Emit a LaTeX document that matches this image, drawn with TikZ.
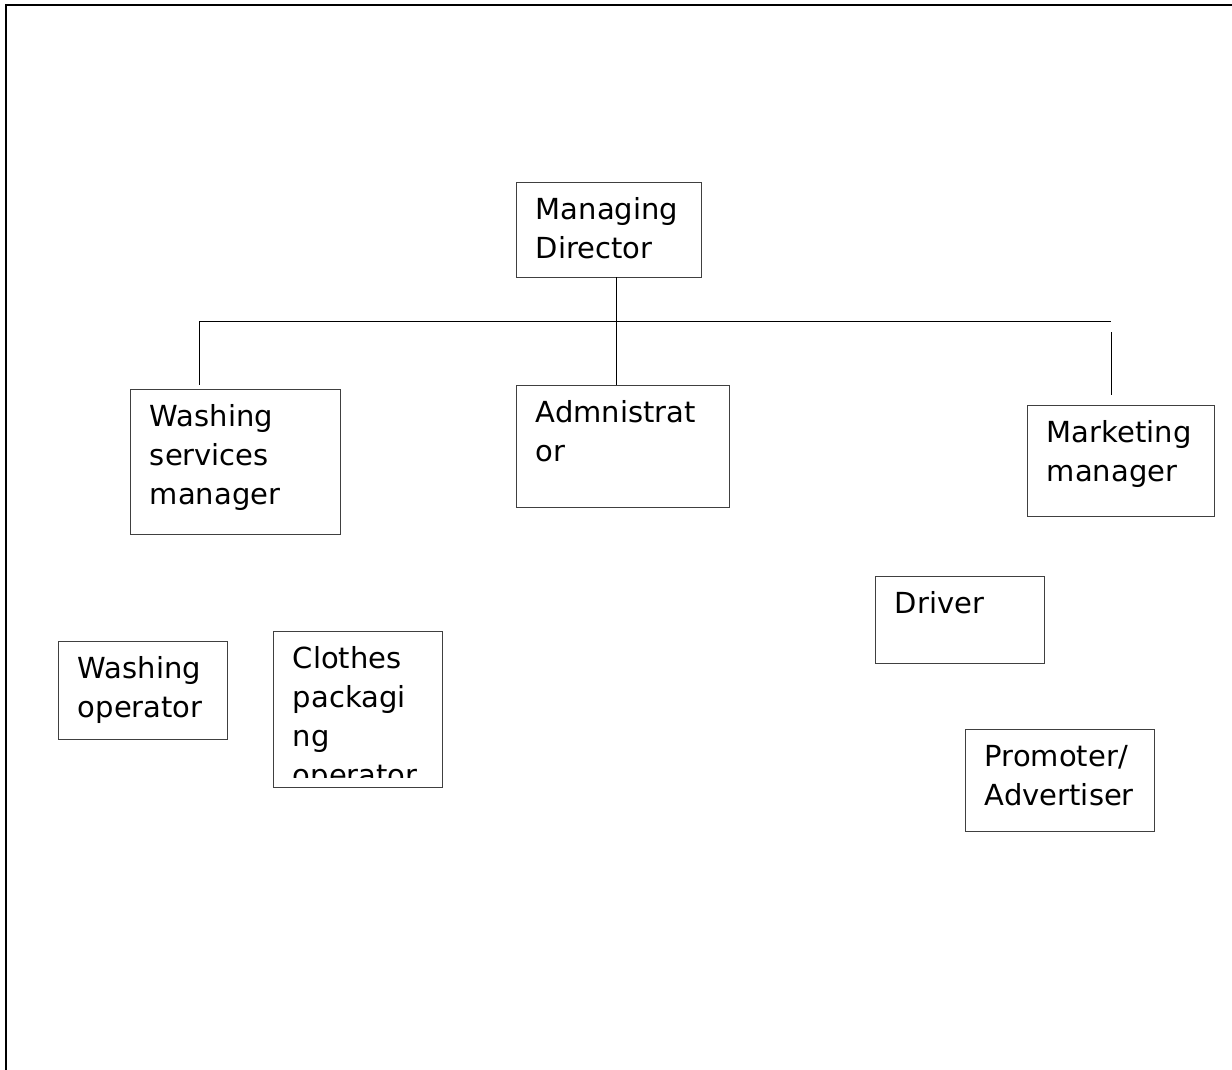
\documentclass[tikz,border=0pt]{standalone}
\usepackage{fontspec}
\setmainfont{DejaVu Sans}
\usetikzlibrary{fit}
\begin{document}
\begin{tikzpicture}[x=0.5pt,y=-0.5pt,
  box/.style={draw=black!75,line width=0.45pt,inner sep=0pt,rectangle},
  lbl/.style={anchor=base west,inner sep=0pt,text width=300pt,align=left,
    font=\fontsize{14.5pt}{19.5pt}\selectfont},
  conn/.style={draw=black,line width=0.5pt},
  frame/.style={draw=black,line width=1pt}]
\useasboundingbox (0,0) rectangle (1232,1070);
\draw[frame] (5.5,1070) -- (5.5,5.5) -- (1232,5.5);
% boxes
\node[box,fit={(516,182) (701,277)}] (md) {};
\node[lbl] (mdT) at (535.5,220) {Managing\\Director};
\node[box,fit={(130,389) (340,534)}] (wsm) {};
\node[lbl] (wsmT) at (149.5,426.5) {Washing\\services\\manager};
\node[box,fit={(516,385) (729,507)}] (adm) {};
\node[lbl] (admT) at (535.5,422.5) {Admnistrat\\or};
\node[box,fit={(1027,405) (1214,516)}] (mm) {};
\node[lbl] (mmT) at (1046.5,442.5) {Marketing\\manager};
\node[box,fit={(58,641) (227,739)}] (wo) {};
\node[lbl] (woT) at (77.5,678) {Washing\\operator};
\node[box,fit={(273,631) (442,787)}] (cpo) {};
\begin{scope}
\clip (273,631) rectangle (442,777);
\node[lbl] (cpoT) at (292.5,668.5) {Clothes\\packagi\\ng\\operator};
\end{scope}
\node[box,fit={(875,576) (1044,663)}] (drv) {};
\node[lbl] (drvT) at (894.5,613.5) {Driver};
\node[box,fit={(965,729) (1154,831)}] (pa) {};
\node[lbl] (paT) at (984.5,766.5) {Promoter/\\Advertiser};
% connectors
\coordinate (busL) at (199,321.5);
\coordinate (busM) at (616,321.5);
\coordinate (busR) at (1111,321.5);
\coordinate (dropL) at (199,385);
\coordinate (dropRt) at (1111,332);
\coordinate (dropRb) at (1111,395);
\draw[conn] (busM |- md.south) -- (busM);
\draw[conn] (busL) -- (busR);
\draw[conn] (busL) -- (dropL);
\draw[conn] (busM) -- (busM |- adm.north);
\draw[conn] (dropRt) -- (dropRb);
\end{tikzpicture}
\end{document}
